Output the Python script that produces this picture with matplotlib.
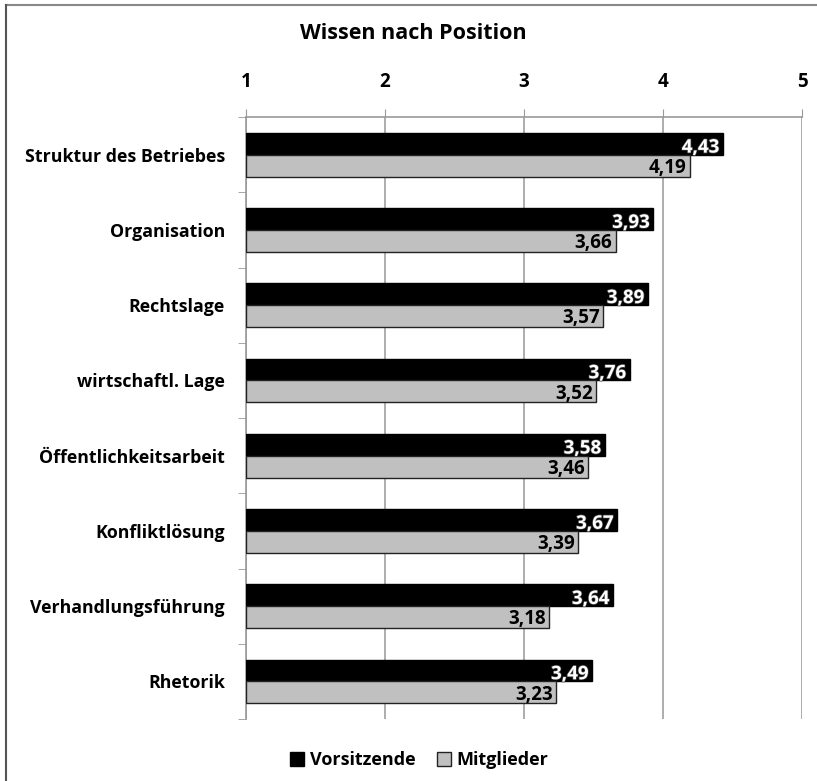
import matplotlib.pyplot as plt
import matplotlib.patheffects as pe
from matplotlib.lines import Line2D
import numpy as np

plt.rcParams['font.family'] = ['Open Sans', 'DejaVu Sans']

categories = ['Struktur des Betriebes', 'Organisation', 'Rechtslage', 'wirtschaftl. Lage',
              'Öffentlichkeitsarbeit', 'Konfliktlösung', 'Verhandlungsführung', 'Rhetorik']
vorsitzende = [4.43, 3.93, 3.89, 3.76, 3.58, 3.67, 3.64, 3.49]
mitglieder = [4.19, 3.66, 3.57, 3.52, 3.46, 3.39, 3.18, 3.23]
xticks = [1, 2, 3, 4, 5]

fig = plt.figure(figsize=(8.17, 7.81), dpi=100)
ax = fig.add_axes([0.301, 0.0794, 0.681, 0.7706])

y = np.arange(len(categories))
h = 0.29
ax.barh(y - h / 2, np.array(vorsitzende) - 1, height=h, left=1, color='black',
        edgecolor='black', linewidth=1, label='Vorsitzende', zorder=3)
ax.barh(y + h / 2, np.array(mitglieder) - 1, height=h, left=1, color='#c0c0c0',
        edgecolor='#222222', linewidth=1, label='Mitglieder', zorder=3)

for yi, v in zip(y, vorsitzende):
    ax.text(v - 0.025, yi - h / 2 + 0.05, f'{v:.2f}'.replace('.', ','), ha='right', va='center',
            color='white', fontsize=13.5, fontweight='bold', zorder=4,
            path_effects=[pe.withStroke(linewidth=1, foreground='#444444')])
for yi, v in zip(y, mitglieder):
    ax.text(v - 0.025, yi + h / 2 + 0.03, f'{v:.2f}'.replace('.', ','), ha='right', va='center',
            color='black', fontsize=13.5, fontweight='bold', zorder=4)

ax.set_xlim(1, 5)
ax.set_ylim(len(categories) - 0.5, -0.5)
ax.xaxis.tick_top()
ax.set_xticks(xticks)
ax.set_xticklabels([str(t) for t in xticks], fontsize=13.5, fontweight='bold')
ax.tick_params(axis='x', length=6, color='#999999', pad=12)
ax.grid(axis='x', color='#a0a0a0', linewidth=1.2, zorder=0)

ax.set_yticks(y)
ax.set_yticklabels(categories, fontsize=12.8, fontweight='bold')
ax.set_yticks(np.arange(-0.5, len(categories)), minor=True)
ax.tick_params(axis='y', which='major', length=0, pad=15)
ax.tick_params(axis='y', which='minor', length=6, color='#999999')

for s in ['bottom', 'right']:
    ax.spines[s].set_visible(False)
ax.spines['top'].set_color('#999999')
ax.spines['left'].set_color('#999999')
ax.spines['top'].set_linewidth(1.2)
ax.spines['left'].set_linewidth(1.2)

fig.text(0.506, 0.957, 'Wissen nach Position', ha='center', va='center',
         fontsize=15.5, fontweight='bold')

fig.legend(loc='center', bbox_to_anchor=(0.513, 0.027), ncol=2, frameon=False,
           prop={'weight': 'bold', 'size': 13}, handlelength=0.8,
           handleheight=0.8, handletextpad=0.3, columnspacing=1.2)

# only top and left border of the chart frame are visible
fig.add_artist(Line2D([0.007, 1.0], [0.993, 0.993], transform=fig.transFigure,
                      color='#888888', linewidth=1.5))
fig.add_artist(Line2D([0.007, 0.007], [0.0, 0.993], transform=fig.transFigure,
                      color='#555555', linewidth=1.5))

plt.savefig('out.png', dpi=100)
